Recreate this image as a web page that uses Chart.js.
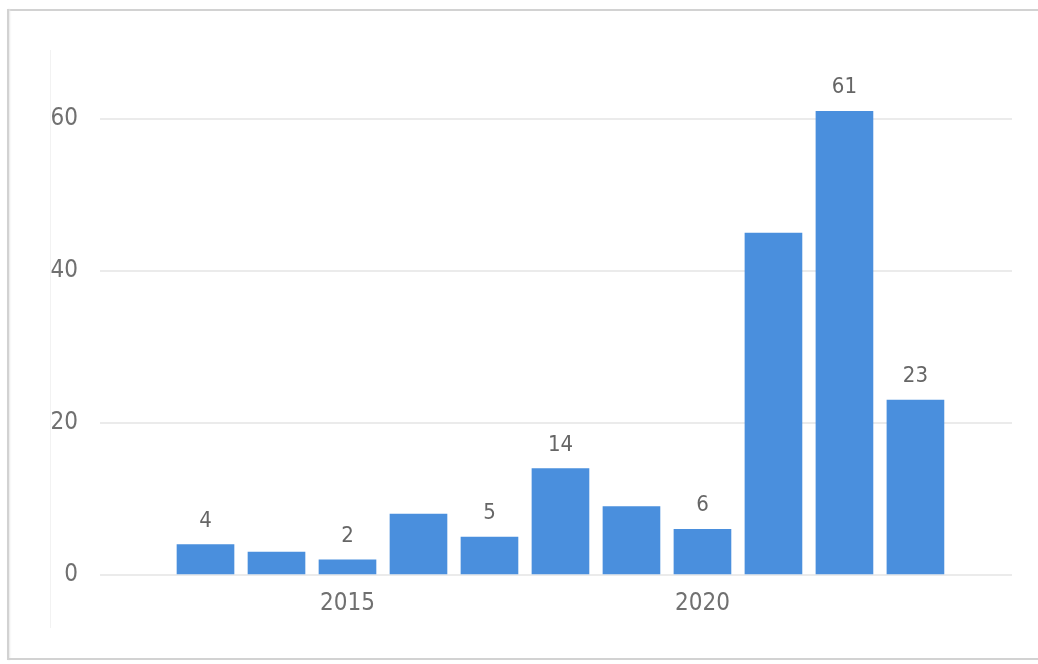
<!DOCTYPE html>
<html>
<head>
<meta charset="utf-8">
<script src="https://cdn.jsdelivr.net/npm/chart.js@4.4.1/dist/chart.umd.min.js"></script>
<style>
  body { margin: 0; background: #fff; overflow: hidden; }
  .edge { position: absolute; background: #d2d2d2; }
  #top { left: 7px; top: 9px; right: 0; height: 2px; }
  #left { left: 7px; top: 9px; width: 2px; height: 651px; box-shadow: 1px 0 2px #e6e6e6; }
  #bottom { left: 7px; top: 658px; right: 0; height: 2px; }
  #vline {
    position: absolute; left: 50px; top: 50px; width: 1px; height: 578px;
    background: #f2f2f2;
  }
  #rlc { position: absolute; left: 0; top: 0; }
</style>
</head>
<body>
<div class="edge" id="top"></div>
<div class="edge" id="left"></div>
<div class="edge" id="bottom"></div>
<div id="vline"></div>
<canvas id="rlc" width="1038" height="664"></canvas>
<script>
const years = [2013, 2014, 2015, 2016, 2017, 2018, 2019, 2020, 2021, 2022, 2023];
const counts = [4, 3, 2, 8, 5, 14, 9, 6, 45, 61, 23];
const showLabel = [true, false, true, false, true, true, false, true, false, true, true];
const xTicks = [2015, 2020];
const yTicks = [0, 20, 40, 60];

const fontFamily = "'DejaVu Sans Condensed', 'Liberation Sans Narrow', sans-serif";
const tickFont = { family: fontFamily, size: 24 };

// draws the value above the bars that have one in the picture
const valueLabels = {
  id: "valueLabels",
  afterDatasetsDraw(chart) {
    const ctx = chart.ctx;
    const meta = chart.getDatasetMeta(0);
    ctx.save();
    ctx.font = "22px " + fontFamily;
    ctx.fillStyle = "#666666";
    ctx.textAlign = "center";
    ctx.textBaseline = "alphabetic";
    meta.data.forEach((bar, i) => {
      if (!showLabel[i]) return;
      ctx.fillText(String(counts[i]), bar.x, bar.y - 18);
    });
    ctx.restore();
  }
};

const ctx = document.getElementById("rlc").getContext("2d");

const chart = new Chart(ctx, {
  type: "bar",
  data: {
    datasets: [{
      data: years.map((y, i) => ({ x: y, y: counts[i] })),
      backgroundColor: "#4a8fdd",
      barThickness: 57,
      borderWidth: 0
    }]
  },
  options: {
    responsive: false,
    animation: false,
    layout: { padding: { top: 81, right: 26, left: 0, bottom: 0 } },
    plugins: {
      legend: { display: false },
      tooltip: { enabled: false }
    },
    scales: {
      x: {
        type: "linear",
        offset: false,
        min: 2011.514,
        max: 2024.36,
        grid: { display: false, drawTicks: false },
        border: { display: false },
        afterBuildTicks(scale) {
          scale.ticks = xTicks.map(v => ({ value: v }));
        },
        afterFit(scale) {
          scale.height = 89;
        },
        ticks: {
          font: tickFont,
          color: "#707070",
          padding: 14,
          maxRotation: 0,
          callback: v => String(v)
        }
      },
      y: {
        min: 0,
        max: 65,
        grid: { color: "#ebebeb", lineWidth: 2, drawTicks: false },
        border: { display: false },
        afterBuildTicks(scale) {
          scale.ticks = yTicks.map(v => ({ value: v }));
        },
        afterFit(scale) {
          scale.width = 100;
        },
        ticks: {
          font: tickFont,
          color: "#707070",
          padding: 22
        }
      }
    }
  },
  plugins: [valueLabels]
});
</script>
</body>
</html>
